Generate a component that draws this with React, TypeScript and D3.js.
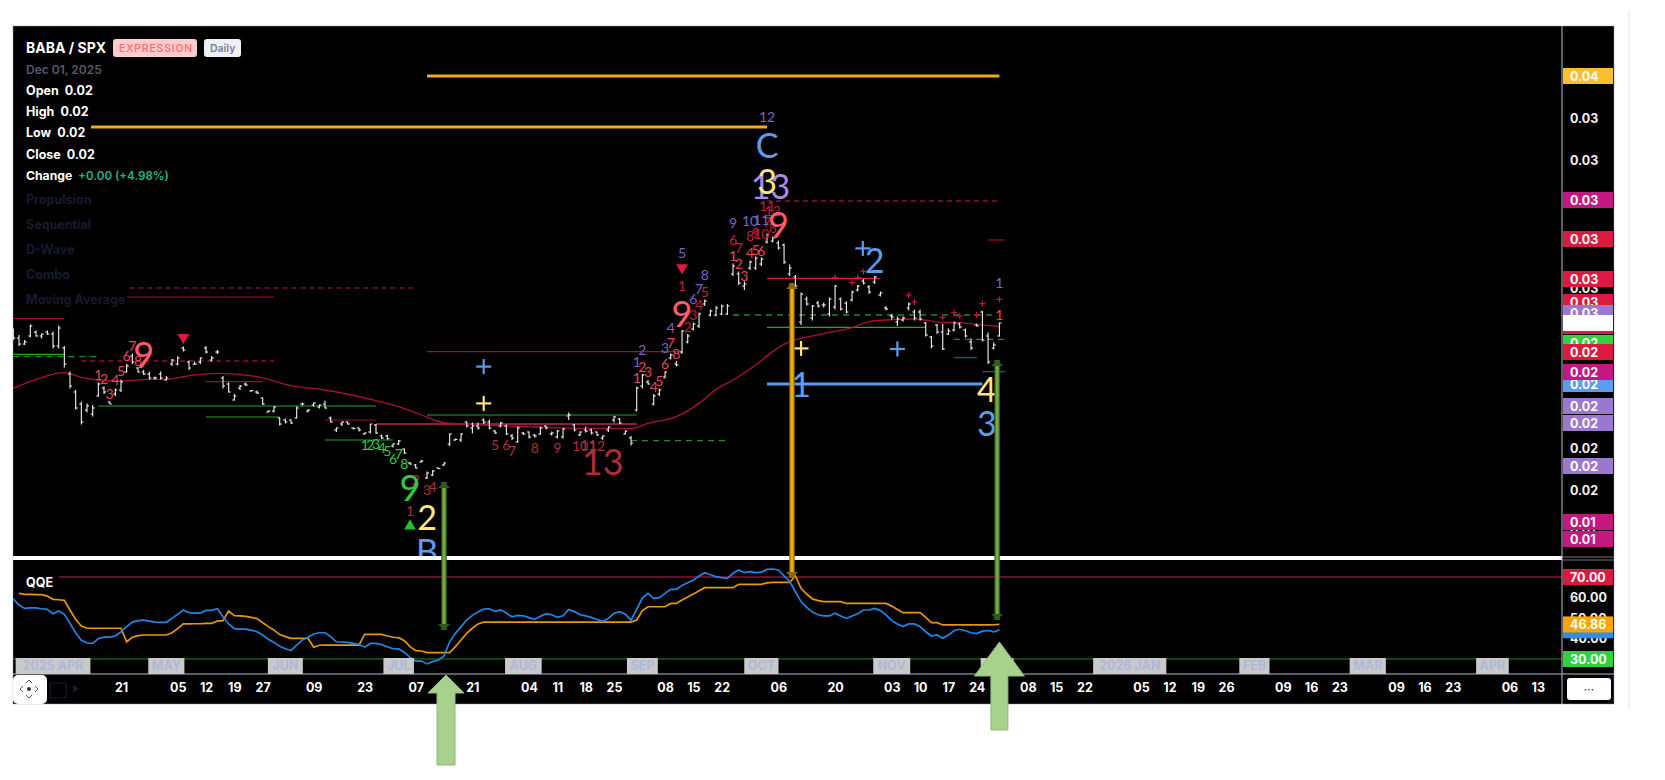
// App.tsx - BABA / SPX daily chart with QQE pane

import React, { useRef, useEffect } from 'react';
import * as d3 from 'd3';

// prices are BABA/SPX x 10000, one entry per trading day starting late March 2025
const highs = [228.8,225.5,223,230.8,227.7,226.3,227.7,227.2,230.3,220,207.2,198,192.2,191.3,190.5,201.7,199.7,192.2,198.8,203.3,211,216.3,209.3,208,207.2,204.7,207.2,205,213.5,214.7,219.7,212.7,212.2,214.3,220,215,218,205,201.7,196,200.5,201.8,198,197.7,194.3,187.7,190,184.2,183.8,183.3,189.7,191.7,188.3,191.8,190.8,192.7,184.7,179.3,182.3,182.3,179.3,179.3,176.7,181,181,175.7,175.5,171.3,173,168.8,162,161,163,157.2,158,159.3,161.7,176.3,173.8,176.3,182.3,181.7,181.7,183.7,183.3,178,182,180.8,176,179.7,177,177.3,176,179.7,180.3,177.3,178,179,186.7,181,177.3,179.7,178.7,177.3,175.3,179.7,185,184,177.7,175,199.7,206,203,196,198.8,207.3,216.3,212.5,228,226,231.7,236.7,243.3,238.3,240,240.8,241,261.3,257.2,252.2,262.7,264.7,264.2,276.3,274.7,272.7,271.3,260.8,255.5,246.7,244.7,240.5,242.5,241.7,244.2,250.5,244.3,242.2,247.7,250.5,253.5,250.5,255,247.3,240,236,234.7,234.7,241.7,238.3,238.3,232,225,231,231,228.8,232.2,231.8,228.8,223.8,231.3,237.5,226.8,221.7,231.8];
const lows = [223,220,220.5,224.3,224.7,223.7,225.5,218.8,218.7,209.3,198.7,188.3,180.7,186.7,184.7,194.7,196,191,195,197,206.7,211,206.7,205.5,203.3,203.3,203.3,202.7,210,210.3,217.2,208,210.5,211,216.3,212.3,216,198.7,196.7,192.7,198,200,197.3,196,190.5,186.8,186.8,180.2,181.3,181,183.8,190.3,186.8,189.8,188.8,188.7,181.7,177,180,180.7,178.3,177.3,175.8,176.3,176,173.5,173.3,169.2,170.5,166,160.7,158.7,161.7,153.5,155,158.5,160,170,172.7,172,179.3,176.3,178.3,181,178.3,176,179.3,175.5,173,171.7,175.5,173.8,174.2,175.5,178.3,175.3,173.8,173.8,183,177.2,175,176.7,175.7,175,173,177,181.7,181,175.7,170.3,187.2,198.7,200.7,190.2,195,203.7,213.3,209.7,216,221.3,227.7,229,240,234.7,234.7,235.5,235.5,255,250.5,248,258,258,260,271.3,271.7,268.3,261,255,249.3,230.5,240.3,232.7,239.2,239.3,234.7,238.3,237.7,236.3,242.2,247.2,250.8,246,251,244.7,237.7,233.3,230,232.2,237.7,232.7,232.7,224.7,218.8,226,218,225.5,227.2,228.8,224.3,218,229.7,222.2,211,218.3,224.7];
const opens = [227,224,221,225,227,225,227,226,220,219,206,197,191,188,186,195,199,192,196,198,207,215,209,207,206,204,206,203,211,211,219,212,211,212,219,213,217,204,201,193,199,201,197.5,197,194,187,187.5,184,183,183,184,191,187.5,190.5,189.5,191,184,178,181,182,179,179,176,177,180.5,175,175,170,171,168.5,161.5,160.5,162,154,155.5,159,160.5,171,173,173,182,179,180,183,182,177.5,180,180,175,172,176.5,177,175.5,176,180,176,174.5,174.5,185,180.5,175.5,178,178,177,174,178,183,183.5,176,174,188,200,202,191,196,204.5,214,211,217,222,228.5,230,241,235.5,235.5,236,236,256,256,250,259,259,261,272,272.5,271.5,270.5,256,254.5,232,243.5,234,241.5,240.5,236,239.5,243.5,241.5,243,248,252.5,249.5,252,245.5,239,235,232,233,239,237,237,231.5,224.5,230.5,227,226,228,231,228,222,230.5,237,225,219,225];
const closes = [224,221,222,230,225,226,226,220,229,211,200,189,182,190,189,201,197,191,198,202,210,212,207,206,204,204,204,204,213,214,218,209,211,214,217,214,217,200,197,195,200,200.5,197.7,196.5,191,187.5,189.5,181,182,181.5,189,191,188,191.5,190.5,189,182,179,182,181,178.7,178,176.5,181,176.5,174,173.7,171,172.5,166.5,161,159,162.5,156.5,157.5,158.7,161.5,176,173.3,176,180,180,179,182,179,176.5,181.5,176,174,179,176,174.5,175,179,179,176.5,177.5,178.5,185.5,178,177,177.5,176.5,175.5,175,179.5,184.5,181.5,177.5,171.5,199,205.5,201,195,198,207,215.5,210.5,227.5,225,231,236,242.5,237.5,239,240,240,260,251.5,251,262,264,263.5,275.5,274,269,262,259,250,246,241,240,240,240.5,243.5,250,238.5,237,247,250,251.5,247,254.5,246.5,238.5,234.5,233.5,234,241,234,233.5,225.5,220,227,218.5,227.5,231.5,229.5,225,219,230,223,212,220.5,231.5];

// moving average read at [bar, price]
const movingAverage: [number, number][] = [[0,198.8],[4,203.3],[9,206.7],[12,204.3],[15,203],[19,202.5],[24,203.3],[27,203.3],[30,204.7],[36,206.3],[43,204.7],[49,200.2],[55,198],[64,192.7],[68,189.7],[72,185.5],[76,181.7],[83,180.5],[92,179.5],[101,178.8],[109,178.8],[112,181.3],[117,184.7],[121,191.3],[124,198.3],[127,203],[131,210.5],[134,217.2],[137,222.2],[139,223.8],[144,226.8],[148,229.2],[151,232.2],[154,233],[159,233.5],[164,231.8],[166,231.8],[170,230.8],[174,229.7]];

const qqeFast = [59.3,56.3,54.7,54.9,54.9,54.5,54.2,52.1,53.4,51.8,47.4,42.8,39.1,37.8,37.6,39.9,40.7,40.7,41.2,43.3,45.8,48,48.7,49,48.5,48,47.9,47.9,49.8,51.8,53.9,52.6,52.4,52.4,53.7,53.7,54.5,50.6,47.1,44.8,44.6,44.6,44,43.3,41.7,39.6,38.1,36.2,35,34.1,36.8,39.3,40.6,42.2,42.8,42.8,40.9,38.4,38.3,38.1,37.6,37.1,35.8,37.6,37.6,37,36,35,34.9,33.2,30.8,29,29,27.6,28.7,29.5,31.5,38.4,42.5,45.8,49,51.3,52.9,54.4,54.5,53.2,53.9,52.4,50.6,51.3,51.1,50.2,49.3,50.8,52.1,51.6,50.3,51.1,54.2,53.1,51.6,51,50.3,49.3,48.4,49.8,52.3,53.1,51.8,48.9,54.2,59.8,62,59.6,59.9,62,64,64,65.9,67.2,68.5,70.5,72.1,71.1,70.2,69.7,69.3,71.8,73.4,72.1,72.6,72.1,72.4,73.7,73.9,73.4,70.5,67.9,62.8,58,55.2,52.9,51.6,51,51,52.3,51,49.8,51,52.1,53.9,53.9,54.7,53.6,51.5,48.7,47.1,45.8,47.1,47.1,45.8,43.3,41.2,41.7,40.1,41.7,43.8,44.5,43.8,42.8,42.4,43.6,43.9,43.2,44.2];
const qqeSlow = [null,62,61.5,61.5,61.4,61.4,60.7,59.1,58.9,58.6,53.9,49.3,46.1,45,45,45,45,45,45,45,38.4,40.6,41.4,41.7,41.7,41.7,41.7,41.7,42.8,44.8,47.1,47.1,47.2,47.2,47.4,47.4,48.5,48.7,53.4,51.1,51,50.8,50.3,49.7,47.7,45.8,44.1,41.9,40.9,40.1,40.1,40.1,40.1,35.7,36.7,36.8,36.8,36.8,36.8,36.8,36.8,36.8,42,42,42,42,41.2,40.6,40.4,38.9,36,34.1,33.9,33.1,33.1,33.1,33.1,33.1,36,39.3,42.5,45,47.1,48,48,48,48,48,48,48,48,48,48,48,48,48,48,48,48,48,48,48,48,48,48,48,48,48,48,48,49,53.6,55.5,55.5,55.5,55.5,57.1,57.1,58.8,60.2,61.7,63.3,64.8,64.8,64.8,64.8,64.8,64.8,66.4,66.4,66.4,66.4,66.4,67.1,67.4,67.4,67.4,67.4,70.5,64.5,61.7,59.3,58.5,58,58,58,58,57.1,57.1,57.1,57.1,57.1,57.1,57.1,57.1,55.8,54.2,52.6,52.6,52.6,52.6,50.3,47.7,47.7,46.6,46.6,46.6,46.6,46.6,46.6,46.6,46.6,46.6,46.7,46.86];

// horizontal levels: [fromBar, toBar, price]
const resistanceLevels: [number, number, number][] = [[0,9,233.7],[20,46,244.5],[34,44,202.2],[55,64,183],[73,118,217.2],[172,175,273]];
const pinkLevels: [number, number, number][] = [[64,110,181]];
const brightRedLevels: [number, number, number][] = [[133,153,253.8]];
const magentaDashLevels: [number, number, number][] = [[20.5,70.5,249]];
const maroonDashLevels: [number, number, number][] = [[12,46,212.5],[133,174,292.5]];
const supportLevels: [number, number, number][] = [[15,64,190],[34,47,184.5],[55,67,173],[73,110,185.5]];
const brightGreenLevels: [number, number, number][] = [[0,9,215.8],[133,161,229.3]];
const greenDashLevels: [number, number, number][] = [[0,15,214.7],[109,126.5,172.7],[127,173,235.5],[166,175,223.3]];
const tealLevels: [number, number, number][] = [[166,170,214.2],[171,175,207.2]];
const blueLevels: [number, number, number][] = [[133,171,201]];
const yellowLevels: [number, number, number][] = [[73,174,355],[13.7,133,329.5]];

// count labels: [bar, price, text]
type Mark = [number, number, string];
const setupRed: Mark[] = [[21,220.5,'7'],[20,215.2,'6'],[15,206,'1'],[16,204,'2'],[18,203.3,'4'],[19,207.7,'5'],[17,196.3,'3'],[22,213,'8'],[110,204.3,'1'],[111,210,'2'],[112,207.2,'3'],[113,199.7,'4'],[114,202.7,'5'],[115,211.3,'6'],[116,221.7,'7'],[117,216.3,'8'],[127,265.5,'1'],[128,261.3,'2'],[129,255.5,'3'],[130,266.8,'4'],[131,268.3,'5'],[132,267.7,'6'],[174,236,'1']];
const countDarkRed: Mark[] = [[119,230,'2'],[120,236,'3'],[121,241,'4'],[122,247.5,'5'],[118,250.5,'1'],[127,273.5,'6'],[128,269.3,'7'],[130,275.5,'8'],[131,276.7,'9'],[132,276.3,'10'],[133,282.2,'7'],[134,279.2,'8'],[133,290.5,'11'],[134,287.7,'12']];
const sequentialRed: Mark[] = [[70,137.7,'1'],[71,153.3,'2'],[73,148.5,'3'],[74,149.7,'4'],[85,170.8,'5'],[87,170.8,'6'],[88,168,'7'],[92,169.3,'8'],[96,169.2,'9'],[100,170.5,'10'],[101.5,171,'11'],[103,170.5,'12']];
const countGreen: Mark[] = [[62,171,'1'],[63,171,'2'],[64,171.3,'3'],[65,169.3,'4'],[66,168,'5'],[67,163.8,'6'],[68,166.3,'7'],[69,161.3,'8']];
const countPurple: Mark[] = [[110,212.2,'1'],[111,218.3,'2'],[115,219.3,'3'],[116,229.3,'4'],[118,266.8,'5'],[120,243.8,'6'],[121,248.8,'7'],[122,256,'8'],[127,281.7,'9'],[130,283,'10'],[132,283.3,'11'],[133,335,'12'],[174,252,'1']];
const bigRed: Mark[] = [[23,216,'9'],[118,236.7,'9'],[135,281,'9']];
const bigGreen: Mark[] = [[70,149.7,'9']];
const bigDarkRed: Mark[] = [[104,162.5,'13']];
const bigYellow: Mark[] = [[73,134.7,'2'],[133,302.7,'3'],[171.8,198.8,'4']];
const bigBlue: Mark[] = [[73,118,'B'],[133,320.8,'C'],[152,263.3,'2'],[139,201.3,'1'],[171.8,181.7,'3']];
const bigPurple: Mark[] = [[133.6,300.5,'13']];

const trianglesDown: [number, number][] = [[30,224.3],[118,259.2]];
const trianglesUp: [number, number][] = [[70,130]];
const plusBlue: [number, number][] = [[83,209.7],[149.9,268.8],[156,218.5]];
const plusYellow: [number, number][] = [[83,191.3],[139,218.8]];
const plusRed: [number, number][] = [[145,254.2],[148,251.7],[149,254.2],[150,257.3],[158,245.5],[159,242],[164,234.3],[166,236.7],[167,235],[170,235.5],[171,241.2],[174,243.3]];

// arrows between the two panes: bar, price end, qqe end
const greenArrows: [number, number, number][] = [[76,152,44.1],[173.6,213,49]];
const orangeArrows: [number, number, number][] = [[137.4,251.5,69.5]];

// bottom axis
const dayTicks = [19,29,34,39,44,53,62,71,81,91,96,101,106,115,120,125,135,145,155,160,165,170,179,184,189,199,204,209,214,224,229,234,244,249,254,264,269];
const dayLabels = ['21','05','12','19','27','09','23','07','21','04','11','18','25','08','15','22','06','20','03','10','17','24','08','15','22','05','12','19','26','09','16','23','09','16','23','06','13'];
const monthTicks = [7,27,48,68,90,111,132,155,173.6,197,219,239,261];
const monthLabels = ['2025 APR','MAY','JUN','JUL','AUG','SEP','OCT','NOV','DEC','2026 JAN','FEB','MAR','APR'];
const monthPad = [14,7,9,7,9,7,7,9,7,12,7,7,7];

// right axis
const priceTicks = [334,313,249,169,148,128];
const priceTickLabels = ['0.03','0.03','0.03','0.02','0.02','0.01'];
const priceTags: [number, string, string][] = [
  [355,'0.04','#fbbf2d'],[293,'0.03','#c2187f'],[273.5,'0.03','#dc1a3f'],[253.5,'0.03','#dc1a3f'],[242,'0.03','#dc1a3f'],
  [236.5,'0.03','#9b78d0'],[230,'','#dc1a3f'],[231.5,'','#ffffff'],[221.5,'0.02','#30d040'],[217,'0.02','#dc1a3f'],[201,'0.02','#5b9df0'],[207,'0.02','#c2187f'],
  [190,'0.02','#9b78d0'],[181.5,'0.02','#9b78d0'],[160,'0.02','#9b78d0'],[132,'0.01','#c2187f'],[123.5,'0.01','#c2187f'],
];
const qqeTicks = [60,50,40];
const qqeTickLabels = ['60.00','50.00','40.00'];
const qqeTags: [number, string, string][] = [[70,'70.00','#dc1a3f'],[44,'','#2f8fe8'],[46.86,'46.86','#ffa500'],[30,'30.00','#30d040']];

const legendRows = [['Open','0.02'],['High','0.02'],['Low','0.02'],['Close','0.02']];
const legendStudies = ['Propulsion','Sequential','D-Wave','Combo','Moving Average'];

const FONT = 'Inter, "Noto Sans", sans-serif';

const App: React.FC = () => {
  const svgRef = useRef<SVGSVGElement | null>(null);

  useEffect(() => {
    if (!svgRef.current) return;
    const svg = d3.select(svgRef.current);
    svg.selectAll('*').remove();
    svg.attr('font-family', FONT);

    const left = 13, right = 1614, top = 26, bottom = 704, axisX = 1562, axisY = 674;

    const x = d3.scaleLinear().domain([0, 174]).range([13.33, 999.4]);
    const y = d3.scaleLinear().domain([132, 355]).range([522, 76]);
    const yQqe = d3.scaleLinear().domain([30, 70]).range([659, 577]);

    // frame
    svg.append('rect').attr('width', 1665).attr('height', 780).attr('fill', '#fff');
    svg.append('line').attr('x1', 1629).attr('x2', 1629).attr('y1', 10).attr('y2', 709).attr('stroke', '#e4e4f0');
    svg.append('rect').attr('x', left).attr('y', top).attr('width', right - left).attr('height', bottom - top)
      .attr('fill', '#000').attr('stroke', '#9a9fb0').attr('stroke-width', 0.5);

    const defs = svg.append('defs');
    defs.append('clipPath').attr('id', 'price-clip').append('rect')
      .attr('x', left).attr('y', top).attr('width', axisX - left).attr('height', 556 - top);
    defs.append('clipPath').attr('id', 'qqe-clip').append('rect')
      .attr('x', left).attr('y', 560).attr('width', axisX - left).attr('height', axisY - 560);

    const pane = svg.append('g').attr('clip-path', 'url(#price-clip)');

    // horizontal levels
    const drawLevels = (levels: [number, number, number][], color: string, width: number, dash?: string) => {
      pane.append('g').selectAll('line').data(levels).join('line')
        .attr('x1', d => x(d[0])).attr('x2', d => x(d[1]))
        .attr('y1', d => y(d[2])).attr('y2', d => y(d[2]))
        .attr('stroke', color).attr('stroke-width', width)
        .attr('stroke-dasharray', dash ?? null);
    };
    drawLevels(resistanceLevels, '#9c1030', 1.2);
    drawLevels(pinkLevels, '#b8285c', 1.5);
    drawLevels(brightRedLevels, '#d81b43', 1.2);
    drawLevels(magentaDashLevels, '#b0106e', 1.2, '5 4');
    drawLevels(maroonDashLevels, '#8c1038', 1.4, '5 4');
    drawLevels(supportLevels, '#1a6e1e', 1.5);
    drawLevels(brightGreenLevels, '#2aa52e', 1.2);
    drawLevels(greenDashLevels, '#1f8a2a', 1.4, '6 5');
    drawLevels(tealLevels, '#0f6060', 1.5);
    drawLevels(blueLevels, '#5b9df0', 3);
    drawLevels(yellowLevels, '#f2ab1d', 3);

    // moving average
    const maLine = d3.line<[number, number]>().x(d => x(d[0])).y(d => y(d[1])).curve(d3.curveMonotoneX);
    pane.append('path').datum(movingAverage).attr('fill', 'none').attr('stroke', '#a81232').attr('stroke-width', 1.3).attr('d', maLine);

    // OHLC bars
    const bars = pane.append('g').attr('stroke', '#f4f4f4').attr('stroke-width', 1.1);
    highs.forEach((h, i) => {
      bars.append('line').attr('x1', x(i)).attr('x2', x(i)).attr('y1', y(h)).attr('y2', y(lows[i]));
      bars.append('line').attr('x1', x(i) - 2).attr('x2', x(i)).attr('y1', y(opens[i])).attr('y2', y(opens[i]));
      bars.append('line').attr('x1', x(i)).attr('x2', x(i) + 2).attr('y1', y(closes[i])).attr('y2', y(closes[i]));
    });

    // count labels
    const drawMarks = (marks: Mark[], color: string, size: number) => {
      pane.append('g').selectAll('text').data(marks).join('text')
        .attr('x', d => x(d[0])).attr('y', d => y(d[1]))
        .attr('text-anchor', 'middle').attr('dominant-baseline', 'central')
        .attr('font-family', 'Lato, sans-serif').attr('font-weight', 400)
        .attr('fill', color).attr('font-size', size).text(d => d[2]);
    };
    drawMarks(sequentialRed, '#a8323a', 14);
    drawMarks(setupRed, '#e8475c', 14);
    drawMarks(countDarkRed, '#c01e3c', 14);
    drawMarks(countGreen, '#2ecc40', 14);
    drawMarks(countPurple, '#7a66c0', 14);
    drawMarks(bigPurple, '#a98ce0', 34);
    drawMarks(bigRed, '#ff5a6e', 36);
    drawMarks(bigGreen, '#2ecc40', 36);
    drawMarks(bigDarkRed, '#b02a3a', 36);
    drawMarks(bigBlue, '#5b9df0', 34);
    drawMarks(bigYellow, '#ffe680', 34);

    // triangles and plus signs
    const tri = d3.symbol().type(d3.symbolTriangle).size(60);
    pane.append('g').selectAll('path').data(trianglesDown).join('path').attr('d', tri)
      .attr('transform', d => `translate(${x(d[0])},${y(d[1])}) rotate(180)`).attr('fill', '#e0173f');
    pane.append('g').selectAll('path').data(trianglesUp).join('path').attr('d', tri)
      .attr('transform', d => `translate(${x(d[0])},${y(d[1])})`).attr('fill', '#22c030');

    const drawPlus = (points: [number, number][], color: string, r: number, width: number) => {
      const g = pane.append('g').attr('stroke', color).attr('stroke-width', width);
      points.forEach(p => {
        g.append('line').attr('x1', x(p[0]) - r).attr('x2', x(p[0]) + r).attr('y1', y(p[1])).attr('y2', y(p[1]));
        g.append('line').attr('x1', x(p[0])).attr('x2', x(p[0])).attr('y1', y(p[1]) - r).attr('y2', y(p[1]) + r);
      });
    };
    drawPlus(plusRed, '#c8143c', 3, 1.2);
    drawPlus(plusBlue, '#5b9df0', 7.5, 2.2);
    drawPlus(plusYellow, '#ffe680', 7.5, 2.2);

    // QQE pane
    const qqe = svg.append('g').attr('clip-path', 'url(#qqe-clip)');
    qqe.append('line').attr('x1', 59).attr('x2', axisX).attr('y1', yQqe(70)).attr('y2', yQqe(70)).attr('stroke', '#8c1030').attr('stroke-width', 1.5);
    qqe.append('line').attr('x1', left).attr('x2', axisX).attr('y1', yQqe(30)).attr('y2', yQqe(30)).attr('stroke', '#0f5f0f').attr('stroke-width', 1.5);
    const qqeLine = d3.line<number | null>().defined(d => d !== null).x((_, i) => x(i)).y(d => yQqe(d as number));
    qqe.append('path').datum(qqeSlow).attr('fill', 'none').attr('stroke', '#e8960c').attr('stroke-width', 1.7).attr('d', qqeLine);
    qqe.append('path').datum(qqeFast).attr('fill', 'none').attr('stroke', '#1e88e5').attr('stroke-width', 1.7).attr('d', qqeLine);
    svg.append('text').attr('x', 26).attr('y', 582).attr('dominant-baseline', 'central').attr('fill', '#fff').attr('font-size', 12.5).attr('font-weight', 700).text('QQE');

    // pane separator and axis frame
    svg.append('rect').attr('x', left).attr('y', 556).attr('width', axisX - left).attr('height', 4).attr('fill', '#fff');
    svg.append('line').attr('x1', axisX).attr('x2', right).attr('y1', 557).attr('y2', 557).attr('stroke', '#777');
    svg.append('line').attr('x1', axisX).attr('x2', right).attr('y1', 560).attr('y2', 560).attr('stroke', '#777');
    svg.append('line').attr('x1', left).attr('x2', right).attr('y1', axisY).attr('y2', axisY).attr('stroke', '#b8bccb');
    svg.append('line').attr('x1', axisX).attr('x2', axisX).attr('y1', top).attr('y2', bottom).attr('stroke', '#b8bccb');

    // bottom axis
    const months = svg.append('g');
    monthLabels.forEach((m, i) => {
      const g = months.append('g');
      const t = g.append('text').attr('x', x(monthTicks[i])).attr('y', 670).attr('text-anchor', 'middle')
        .attr('font-size', 12.5).attr('font-weight', 700).attr('fill', '#aeb8d8').text(m);
      const w = (t.node() as SVGTextElement).getComputedTextLength() + monthPad[i];
      g.insert('rect', 'text').attr('x', x(monthTicks[i]) - w / 2).attr('y', 658).attr('width', w).attr('height', 16).attr('fill', '#c9c9c9');
    });
    const xAxis = d3.axisBottom(x).tickValues(dayTicks).tickSize(0).tickPadding(0)
      .tickFormat((_, i) => dayLabels[i]);
    const xAxisG = svg.append('g').attr('transform', 'translate(0,683)').call(xAxis);
    xAxisG.select('.domain').remove();
    xAxisG.selectAll('text').attr('fill', '#fff').attr('font-size', 12.5).attr('font-weight', 700).attr('font-family', FONT);

    // right axes
    const addAxis = (scale: d3.ScaleLinear<number, number>, ticks: number[], labels: string[]) => {
      const g = svg.append('g').attr('transform', `translate(${axisX + 8},0)`)
        .call(d3.axisRight(scale).tickValues(ticks).tickSize(0).tickPadding(0).tickFormat((_, i) => labels[i]));
      g.select('.domain').remove();
      g.selectAll('text').attr('fill', '#f2f2f2').attr('font-size', 12.5).attr('font-weight', 700).attr('font-family', FONT);
    };
    addAxis(y, priceTicks, priceTickLabels);
    addAxis(yQqe, qqeTicks, qqeTickLabels);

    const addTags = (tags: [number, string, string][], scale: d3.ScaleLinear<number, number>) => {
      tags.forEach(([v, label, color]) => {
        svg.append('rect').attr('x', axisX + 1).attr('y', scale(v) - 8).attr('width', 50).attr('height', 16).attr('fill', color);
        svg.append('text').attr('x', axisX + 8).attr('y', scale(v)).attr('dominant-baseline', 'central')
          .attr('fill', '#fff').attr('font-size', 12.5).attr('font-weight', 700).text(label);
      });
    };
    addTags(priceTags, y);
    addTags(qqeTags, yQqe);

    // arrows crossing the panes
    const drawArrow = (a: [number, number, number], outer: string, inner: string, head: string) => {
      const ax = x(a[0]), y1 = y(a[1]), y2 = yQqe(a[2]);
      svg.append('line').attr('x1', ax).attr('x2', ax).attr('y1', y1).attr('y2', y2).attr('stroke', outer).attr('stroke-width', 5.5);
      svg.append('line').attr('x1', ax).attr('x2', ax).attr('y1', y1 + 4).attr('y2', y2 - 4).attr('stroke', inner).attr('stroke-width', 3);
      svg.append('path').attr('d', `M${ax - 6},${y1 + 6}L${ax},${y1}L${ax + 6},${y1 + 6}Z`).attr('fill', head);
      svg.append('path').attr('d', `M${ax - 6},${y2 - 6}L${ax},${y2}L${ax + 6},${y2 - 6}Z`).attr('fill', head);
    };
    greenArrows.forEach(a => drawArrow(a, '#2e6a1c', '#7aa845', '#2e5a1c'));
    orangeArrows.forEach(a => drawArrow(a, '#8a6a10', '#f5ae00', '#8a6a10'));

    // big hand drawn block arrows
    const blockArrow = (tipX: number, tipY: number, endY: number, headHalf: number, shaftHalf: number, headH: number) => {
      const pts = [[tipX, tipY], [tipX + headHalf, tipY + headH], [tipX + shaftHalf, tipY + headH], [tipX + shaftHalf, endY],
        [tipX - shaftHalf, endY], [tipX - shaftHalf, tipY + headH], [tipX - headHalf, tipY + headH]];
      svg.append('polygon').attr('points', pts.map(p => p.join(',')).join(' '))
        .attr('fill', '#a9d18e').attr('stroke', '#8fbc6f');
    };
    blockArrow(x(76) + 2, 675, 765, 18, 9, 18);
    blockArrow(x(174), 642, 730, 25, 8.5, 34);

    // legend
    const txt = (tx: number, ty: number, s: string, color: string, size: number, weight = 700) =>
      svg.append('text').attr('x', tx).attr('y', ty).attr('fill', color).attr('font-size', size)
        .attr('font-weight', weight).attr('dominant-baseline', 'central').text(s);
    txt(26, 47, 'BABA / SPX', '#fff', 14);
    svg.append('rect').attr('x', 113).attr('y', 39).attr('width', 84).attr('height', 18).attr('rx', 3).attr('fill', '#ffcccc');
    txt(119, 48, 'EXPRESSION', '#ff6b6b', 10.5, 500).attr('letter-spacing', 0.8);
    svg.append('rect').attr('x', 204).attr('y', 39).attr('width', 37).attr('height', 18).attr('rx', 3).attr('fill', '#eef0f5');
    txt(210, 48, 'Daily', '#7a7f95', 10.5, 600);
    txt(26, 69, 'Dec 01, 2025', '#555a70', 12, 600);
    legendRows.forEach((r, i) => {
      const rowY = 90 + i * 21.4;
      const t = txt(26, rowY, r[0], '#fff', 12.5);
      const w = (t.node() as SVGTextElement).getComputedTextLength();
      txt(26 + w + 6, rowY, r[1], '#fff', 12.5);
    });
    const ch = txt(26, 175.5, 'Change', '#fff', 12.2);
    txt(26 + (ch.node() as SVGTextElement).getComputedTextLength() + 6, 175.5, '+0.00 (+4.98%)', '#1fb58a', 11.6, 600);
    legendStudies.forEach((s, i) => { txt(26, 199 + i * 25, s, '#161b2e', 12.5); });

    // bottom left controls
    svg.append('rect').attr('x', left).attr('y', 675).attr('width', 34).attr('height', 29).attr('rx', 5).attr('fill', '#fff');
    svg.append('circle').attr('cx', 29).attr('cy', 689).attr('r', 2).attr('fill', '#333');
    svg.append('path').attr('d', 'M26,683l3,-3l3,3M26,695l3,3l3,-3M23,686l-3,3l3,3M35,686l3,3l-3,3')
      .attr('fill', 'none').attr('stroke', '#555').attr('stroke-width', 1);
    svg.append('rect').attr('x', 50).attr('y', 683).attr('width', 16).attr('height', 15).attr('rx', 2).attr('fill', 'none').attr('stroke', '#1a1d2b').attr('stroke-width', 1.2);
    svg.append('path').attr('d', 'M73,685l6,4l-6,4Z').attr('fill', '#1a1d2b');

    // more button
    svg.append('rect').attr('x', 1567).attr('y', 678).attr('width', 44).attr('height', 22).attr('rx', 3).attr('fill', '#fff');
    svg.append('text').attr('x', 1589).attr('y', 689).attr('text-anchor', 'middle').attr('dominant-baseline', 'central')
      .attr('fill', '#333').attr('font-size', 12).text('···');
  }, []);

  return (
    <svg ref={svgRef} width={1665} height={780} style={{ position: 'absolute', left: 0, top: 0 }} />
  );
};

export default App;
